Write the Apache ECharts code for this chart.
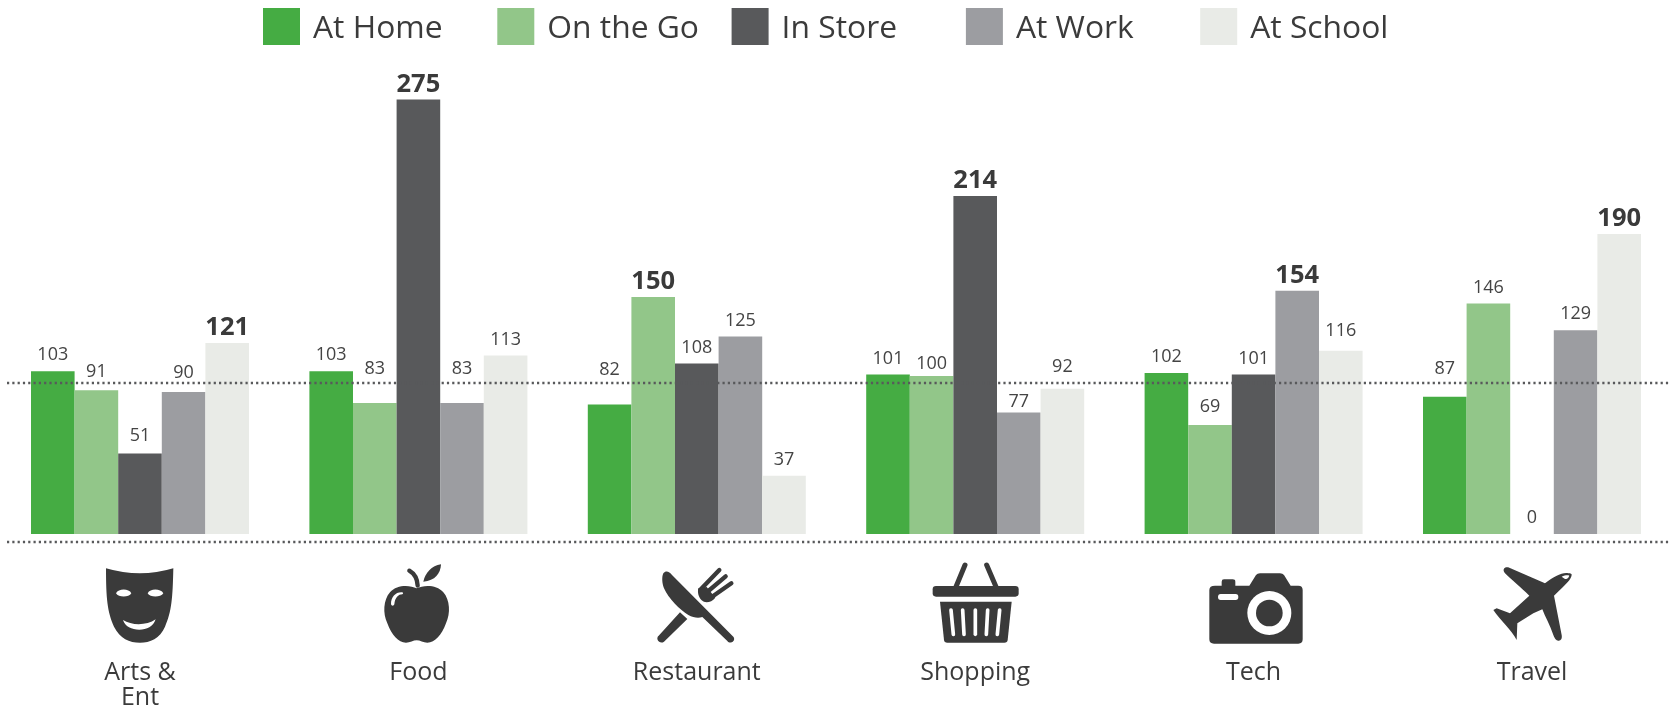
<!DOCTYPE html>
<html>
<head>
<meta charset="utf-8">
<title>Index by category and location</title>
<script src="https://cdn.jsdelivr.net/npm/echarts@6/dist/echarts.min.js"></script>
<style>
  html, body { margin: 0; padding: 0; background: #fff; }
  #chart { width: 1669px; height: 709px; }
</style>
</head>
<body>
<div id="chart"></div>
<script>
const categories = ["Arts &\nEnt", "Food", "Restaurant", "Shopping", "Tech", "Travel"];
const atHome = [103, 103, 82, 101, 102, 87];
const onTheGo = [91, 83, 150, 100, 69, 146];
const inStore = [51, 275, 108, 214, 101, 0];
const atWork = [90, 83, 125, 77, 154, 129];
const atSchool = [121, 113, 37, 92, 116, 190];
const averageLine = 95.6;
const floorLine = -5;

const TEXT = "#3b3b3b";
const FONT = "Open Sans";

let seriesList = [
  { name: "At Home", values: atHome, color: "#45ac43" },
  { name: "On the Go", values: onTheGo, color: "#92c689" },
  { name: "In Store", values: inStore, color: "#58595b" },
  { name: "At Work", values: atWork, color: "#9c9da1" },
  { name: "At School", values: atSchool, color: "#e9ebe7" },
];

// labels that were moved by hand in the original, mostly to clear the dotted line
const labelShift = {
  "At Home": { 2: -19, 5: -12 },
  "On the Go": { 0: -2, 1: -18, 3: 4, 4: -2 },
  "In Store": { 0: -2 },
  "At Work": { 0: -3, 1: -18, 3: 5 },
  "At School": { 3: -6, 4: -4 },
};

// biggest bar of every category gets a bold label
function barData(s) {
  return s.values.map((v, i) => {
    let top = Math.max(atHome[i], onTheGo[i], inStore[i], atWork[i], atSchool[i]);
    let label = { offset: [0, labelShift[s.name][i] || 0] };
    if (v === top) {
      label.fontSize = 25.5;
      label.fontWeight = "bold";
      label.distance = 2;
      label.color = "#3a3a3a";
    }
    return { value: v, label: label };
  });
}

// icons under the axis, drawn in 3x units, dx is the distance from the category centre
const DARK = "#3a3a3a";
const icons = [
  {
    dx: -50,
    parts: [
      { d: "M48,40 Q150,70 250,40 C248,130 245,170 225,215 C210,250 180,263 150,263 C118,263 90,250 72,215 C52,170 48,130 48,40Z" },
      { d: "M78,115 C85,100 117,100 124,115 C117,128 85,128 78,115Z", fill: "#fff" },
      { d: "M173,115 C180,100 212,100 220,115 C212,128 180,128 173,115Z", fill: "#fff" },
      { d: "M99,195 C125,212 170,212 197,193 C190,215 170,224 148,224 C125,224 105,215 99,195Z", fill: "#fff" },
    ],
  },
  {
    dx: -328.4,
    parts: [
      { d: "M980,100 C1000,90 1040,88 1060,112 C1080,135 1082,175 1068,205 C1055,240 1035,263 1012,263 C1000,263 990,256 980,256 C970,256 960,263 948,263 C925,263 905,240 892,205 C878,175 880,135 900,112 C920,88 960,90 980,100Z" },
      { d: "M903,147 C903,125 918,110 937,112 C940,113 940,117 937,118 C925,118 915,128 913,148 C911,154 904,153 903,147Z", fill: "#fff" },
      { d: "M1000,80 C1005,55 1025,32 1053,28 C1052,55 1035,78 1000,80Z" },
      { d: "M958,47 C975,57 982,70 983,92", stroke: 13 },
    ],
  },
  {
    dx: -56.8,
    parts: [
      { d: "M70,55 C78,45 88,50 96,60 L280,245 C285,252 282,258 275,262 C270,264 265,262 262,258 L187,186 C175,190 160,188 145,180 C120,165 85,130 72,100 C66,85 65,65 70,55Z" },
      { d: "M120,172 L142,192 L72,260 C65,265 56,262 53,255 C51,250 52,245 56,242Z" },
      { d: "M181,104 L238,45", stroke: 13 },
      { d: "M198,114 L257,64", stroke: 13 },
      { d: "M212,128 L274,85", stroke: 13 },
      { d: "M175,100 L200,96 L226,128 C214,143 195,146 185,136 C175,126 172,111 175,100Z" },
    ],
  },
  {
    dx: -335.2,
    parts: [
      { d: "M975,30 L948,95", stroke: 15 },
      { d: "M1040,30 L1068,95", stroke: 15 },
      { d: "M888,93 L1126,93 Q1136,93 1136,103 L1136,115 Q1136,125 1126,125 L888,125 Q878,125 878,115 L878,103 Q878,93 888,93Z" },
      { d: "M900,140 L1115,140 L1103,255 Q1102,263 1093,263 L922,263 Q913,263 912,255Z" },
      { d: "M933,165 L940,238", stroke: 11, color: "#fff" },
      { d: "M968,165 L972,238", stroke: 11, color: "#fff" },
      { d: "M1006,165 L1006,238", stroke: 11, color: "#fff" },
      { d: "M1043,165 L1039,238", stroke: 11, color: "#fff" },
      { d: "M1079,165 L1072,238", stroke: 11, color: "#fff" },
    ],
  },
  {
    dx: -53.6,
    parts: [
      { d: "M45,92 L65,92 L65,80 Q65,73 72,73 L98,73 Q106,73 106,80 L106,92 L148,92 L168,60 Q172,55 180,55 L240,55 Q248,55 252,60 L272,92 L295,92 Q308,92 308,105 L308,253 Q308,266 295,266 L42,266 Q28,266 28,253 L28,105 Q28,92 45,92Z" },
      { d: "M62,117 L107,117 Q115,117 115,126 Q115,135 107,135 L62,135 Q54,135 54,126 Q54,117 62,117Z", fill: "#fff" },
      { circle: [208, 174, 66], fill: "#fff" },
      { circle: [208, 174, 40] },
    ],
  },
  {
    dx: -332,
    parts: [
      { d: "M1115,60 C1113,75 1100,85 1062,122 L1085,240 C1087,252 1082,258 1075,257 C1068,256 1065,252 1060,240 C1050,210 1035,185 1027,163 L1000,175 L952,205 L950,255 C935,225 900,195 880,165 L890,160 L930,175 L988,122 C960,95 935,75 915,55 C905,42 915,33 928,38 L1035,85 C1060,65 1090,50 1105,55 C1112,55 1116,57 1115,60Z" },
      { d: "M1085,65 C1095,60 1105,60 1108,62 C1105,70 1100,72 1095,72Z", fill: "#fff" },
    ],
  },
];

function iconPart(p) {
  if (p.circle) {
    return {
      type: "circle",
      shape: { cx: p.circle[0], cy: p.circle[1], r: p.circle[2] },
      style: { fill: p.fill || DARK },
    };
  }
  if (p.stroke) {
    return {
      type: "path",
      shape: { pathData: p.d },
      style: { fill: "none", stroke: p.color || DARK, lineWidth: p.stroke, lineCap: "round" },
    };
  }
  return { type: "path", shape: { pathData: p.d }, style: { fill: p.fill || DARK } };
}

let chartDom = document.getElementById("chart");
let myChart = echarts.init(chartDom);

let option = {
  animation: false,
  backgroundColor: "#fff",
  textStyle: { fontFamily: FONT },
  // one legend per item, the original spaces them evenly whatever the text width
  legend: seriesList.map((s, i) => ({
    data: [s.name],
    left: 263 + 234.3 * i,
    top: 8,
    padding: 0,
    icon: "rect",
    itemWidth: 37,
    itemHeight: 37,
    selectedMode: false,
    formatter: "{t|{name}}",
    textStyle: {
      rich: {
        t: {
          fontFamily: FONT,
          fontSize: 31.8,
          color: TEXT,
          padding: [5, 0, 0, 8],
        },
      },
    },
  })),
  grid: [
    // outerBounds off, or the grid gets squeezed to keep the labels on the canvas
    { left: 0.8, top: 60.1, width: 1670.4, height: 481.9, outerBoundsMode: "none" },
    // same scale, only holds the dotted lines
    { left: 7, top: 60.1, width: 1662, height: 481.9, outerBoundsMode: "none" },
  ],
  xAxis: [
    {
      type: "category",
      gridIndex: 0,
      data: categories,
      axisLine: { show: false, onZero: false },
      axisTick: { show: false },
      axisLabel: {
        fontFamily: FONT,
        fontSize: 25,
        color: TEXT,
        lineHeight: 25.5,
        margin: 118,
        interval: 0,
      },
    },
    { type: "category", gridIndex: 1, show: false, data: categories },
  ],
  yAxis: [
    { type: "value", gridIndex: 0, min: floorLine, max: 300, show: false },
    { type: "value", gridIndex: 1, min: floorLine, max: 300, show: false },
  ],
  series: seriesList
    .map((s) => ({
      name: s.name,
      type: "bar",
      data: barData(s),
      barWidth: 43.6,
      barGap: 0,
      itemStyle: { color: s.color },
      label: {
        show: true,
        position: "top",
        distance: 7,
        fontFamily: FONT,
        fontSize: 18,
        color: "#444",
      },
    }))
    .concat([
      {
        type: "line",
        xAxisIndex: 1,
        yAxisIndex: 1,
        data: [],
        markLine: {
          silent: true,
          symbol: "none",
          label: { show: false },
          lineStyle: { color: "#58595b", width: 2.3, type: [2.2, 3.1], opacity: 1 },
          data: [{ yAxis: averageLine }, { yAxis: floorLine }],
        },
      },
      {
        type: "custom",
        xAxisIndex: 0,
        yAxisIndex: 0,
        silent: true,
        clip: false,
        data: icons.map((icon, i) => [i, 0]),
        renderItem: function (params, api) {
          let icon = icons[params.dataIndex];
          return {
            type: "group",
            x: api.coord([api.value(0), 0])[0] + icon.dx,
            y: 555,
            scaleX: 1 / 3,
            scaleY: 1 / 3,
            children: icon.parts.map(iconPart),
          };
        },
      },
    ]),
};

option && myChart.setOption(option);
</script>
</body>
</html>
